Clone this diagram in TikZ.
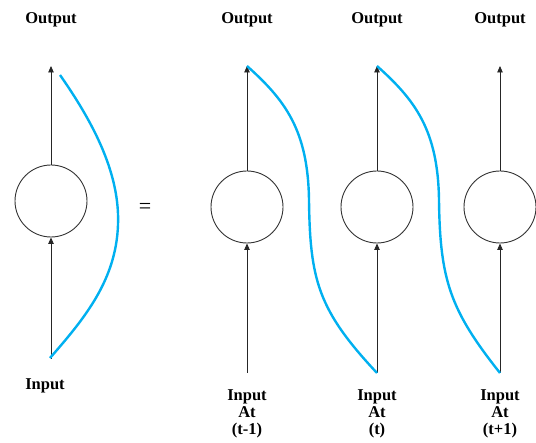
\documentclass[tikz,border=0pt]{standalone}
\usepackage{fontspec}
\setmainfont{Liberation Serif}
\usetikzlibrary{arrows.meta}
\definecolor{flow}{RGB}{0,176,240}
\tikzset{
  cell/.style={circle, draw=black!80, line width=0.9pt, minimum size=72pt, inner sep=0pt},
  lbl/.style={font=\fontsize{16.5}{17}\selectfont\bfseries, align=center, inner sep=0pt},
  conn/.style={draw=black!85, line width=0.9pt, -{Triangle[length=6.5pt,width=5.5pt]}},
  loopline/.style={draw=flow, line width=2.4pt}
}
\begin{document}
\begin{tikzpicture}[x=1pt,y=-1pt]
\useasboundingbox (0,0) rectangle (536,443);

% folded network
\node[cell] (c0) at (51,201) {};
\coordinate (top0) at (51,66);
\coordinate (bot0) at (51,359);
\node[lbl] (out0) at (51,20) {Output};
\node[lbl] (in0) at (45,386) {Input};
\draw[conn] (c0.north) -- (top0);
\draw[conn] (bot0) -- (c0.south);
\coordinate (ls) at (60,75);
\coordinate (le) at (50,358);
\draw[loopline] (ls) .. controls (95,125) and (120,175) .. (118,225)
  .. controls (116,280) and (85,318) .. (le);

\node[font=\fontsize{22}{22}\selectfont, inner sep=0pt] (eq) at (145,208) {=};

% unrolled network
\foreach \i/\x/\t in {1/247/(t-1),2/377/(t),3/500/(t+1)}{
  \node[cell] (c\i) at (\x,207) {};
  \coordinate (top\i) at (\x,66);
  \coordinate (bot\i) at (\x,373);
  \node[lbl] (out\i) at (\x,20) {Output};
  \node[lbl, anchor=north] (in\i) at (\x,389) {Input\\At\\\t};
  \draw[conn] (c\i.north) -- (top\i);
  \draw[conn] (bot\i) -- (c\i.south);
}
\draw[loopline] (top1) .. controls (285,100) and (308,130) .. (309,200)
  .. controls (310,280) and (318,310) .. (bot2);
\draw[loopline] (top2) .. controls (415,100) and (438,130) .. (439,200)
  .. controls (440,280) and (450,310) .. (bot3);
\end{tikzpicture}
\end{document}
